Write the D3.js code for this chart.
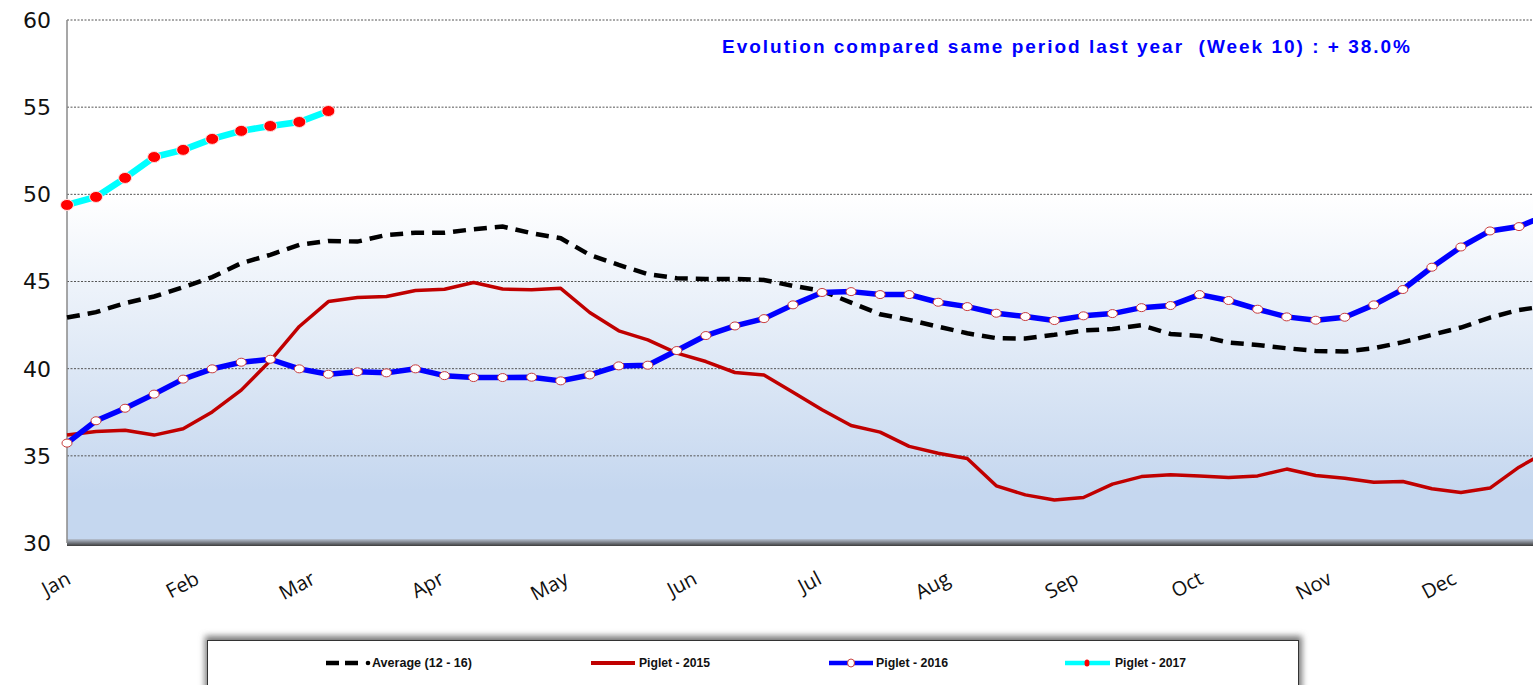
<!DOCTYPE html>
<html>
<head>
<meta charset="utf-8">
<script src="https://cdn.jsdelivr.net/npm/d3@7"></script>
<style>
  html, body { margin: 0; padding: 0; background: #fff; overflow: hidden; }
  svg { display: block; }
</style>
</head>
<body>
<div id="chart"></div>
<script>
const W = 1533, H = 685;

// weekly prices, week 1..52
const average = [42.93, 43.24, 43.76, 44.14, 44.67, 45.25, 46.05, 46.53, 47.10, 47.33, 47.29, 47.67, 47.80, 47.80, 48.00, 48.15,
  47.77, 47.48, 46.53, 45.95, 45.42, 45.19, 45.15, 45.15, 45.09, 44.75, 44.46, 43.79, 43.12, 42.80, 42.41, 42.03,
  41.75, 41.73, 41.94, 42.19, 42.28, 42.49, 41.99, 41.88, 41.50, 41.36, 41.17, 41.02, 40.98, 41.17, 41.52, 41.94,
  42.36, 42.93, 43.37, 43.60];
const piglet2015 = [36.19, 36.40, 36.47, 36.19, 36.55, 37.52, 38.77, 40.45, 42.42, 43.85, 44.08, 44.14, 44.48, 44.56, 44.94, 44.57,
  44.52, 44.61, 43.22, 42.17, 41.65, 40.89, 40.41, 39.78, 39.64, 38.65, 37.64, 36.74, 36.36, 35.54, 35.15, 34.85,
  33.28, 32.76, 32.47, 32.61, 33.38, 33.81, 33.91, 33.85, 33.76, 33.85, 34.24, 33.87, 33.72, 33.49, 33.53, 33.11,
  32.90, 33.15, 34.35, 35.30];
const piglet2016 = [35.73, 37.01, 37.73, 38.54, 39.40, 39.99, 40.37, 40.54, 39.99, 39.68, 39.82, 39.76, 39.99, 39.60, 39.49, 39.49,
  39.51, 39.30, 39.64, 40.16, 40.20, 41.04, 41.90, 42.45, 42.87, 43.66, 44.37, 44.42, 44.25, 44.25, 43.81, 43.56,
  43.18, 42.99, 42.76, 43.03, 43.16, 43.50, 43.62, 44.25, 43.91, 43.41, 42.97, 42.78, 42.95, 43.66, 44.54, 45.82,
  46.98, 47.90, 48.15, 48.85];
const piglet2017 = [49.39, 49.85, 50.94, 52.14, 52.55, 53.18, 53.64, 53.92, 54.15, 54.78];

const months = ["Jan", "Feb", "Mar", "Apr", "May", "Jun", "Jul", "Aug", "Sep", "Oct", "Nov", "Dec"];
const monthStartDay = [0, 31, 59, 90, 120, 151, 181, 212, 243, 273, 304, 334];
const yTicks = [30, 35, 40, 45, 50, 55, 60];
const titleText = "Evolution compared same period last year  (Week 10) : + 38.0%";

const margin = { left: 67, top: 20, bottom: 543 };

const svg = d3.select("#chart").append("svg").attr("width", W).attr("height", H);
const defs = svg.append("defs");

const x = d3.scaleLinear().domain([1, 52]).range([margin.left, margin.left + 51 * 29.04]);
const y = d3.scaleLinear().domain([30, 60]).range([margin.bottom, margin.top]);

// background gradient of the plot area
const grad = defs.append("linearGradient").attr("id", "bg")
  .attr("gradientUnits", "userSpaceOnUse")
  .attr("x1", 0).attr("x2", 0).attr("y1", y(50)).attr("y2", y(33));
grad.append("stop").attr("offset", 0).attr("stop-color", "#ffffff");
grad.append("stop").attr("offset", 1).attr("stop-color", "#c5d7ef");

const floor = defs.append("linearGradient").attr("id", "floor").attr("x1", 0).attr("x2", 0).attr("y1", 0).attr("y2", 1);
floor.append("stop").attr("offset", 0).attr("stop-color", "#b8c2d2");
floor.append("stop").attr("offset", 1).attr("stop-color", "#3c3c3c");

defs.append("clipPath").attr("id", "clip").append("rect")
  .attr("x", margin.left - 8).attr("y", 0).attr("width", W - margin.left + 8).attr("height", margin.bottom + 4);

svg.append("rect")
  .attr("x", margin.left).attr("y", y(60)).attr("width", W - margin.left).attr("height", y(30) - y(60))
  .attr("fill", "url(#bg)");

// gridlines
svg.append("g").selectAll("line").data(yTicks.filter(d => d > 30)).join("line")
  .attr("x1", margin.left).attr("x2", W)
  .attr("y1", d => y(d)).attr("y2", d => y(d))
  .attr("stroke", "#555").attr("stroke-width", 1).attr("stroke-dasharray", "2,1.5");

// floor and left axis
svg.append("rect").attr("x", margin.left).attr("y", y(30) - 4).attr("width", W - margin.left).attr("height", 7)
  .attr("fill", "url(#floor)");
svg.append("line").attr("x1", margin.left).attr("x2", margin.left).attr("y1", y(60)).attr("y2", y(30))
  .attr("stroke", "#8a8a8a").attr("stroke-width", 1.5);

// y labels
svg.append("g").selectAll("text").data(yTicks).join("text")
  .attr("x", 51).attr("y", d => y(d)).attr("dy", "0.36em")
  .attr("text-anchor", "end")
  .attr("font-family", "DejaVu Sans, Verdana, sans-serif").attr("font-size", 22)
  .attr("fill", "#111").text(d => d);

// month labels
svg.append("g").selectAll("text").data(months).join("text")
  .attr("text-anchor", "end")
  .attr("transform", (d, i) => `translate(${x(1 + monthStartDay[i] / 7) + 5},583) rotate(-28)`)
  .attr("font-family", "Open Sans, sans-serif").attr("font-size", 20)
  .attr("fill", "#111").text(d => d);

const plot = svg.append("g").attr("clip-path", "url(#clip)");
const line = d3.line().x((d, i) => x(i + 1)).y(d => y(d));

plot.append("path").datum(average).attr("d", line)
  .attr("fill", "none").attr("stroke", "#000").attr("stroke-width", 4.5)
  .attr("stroke-dasharray", "13,8");

plot.append("path").datum(piglet2015).attr("d", line)
  .attr("fill", "none").attr("stroke", "#c00000").attr("stroke-width", 3.5).attr("stroke-linejoin", "round");

plot.append("path").datum(piglet2016).attr("d", line)
  .attr("fill", "none").attr("stroke", "#0000ff").attr("stroke-width", 5.5).attr("stroke-linejoin", "round");
plot.append("g").selectAll("ellipse").data(piglet2016).join("ellipse")
  .attr("cx", (d, i) => x(i + 1)).attr("cy", d => y(d)).attr("rx", 5).attr("ry", 4)
  .attr("fill", "#fff").attr("stroke", "#c83c3c").attr("stroke-width", 1);

plot.append("path").datum(piglet2017).attr("d", line)
  .attr("fill", "none").attr("stroke", "#00ffff").attr("stroke-width", 6.5).attr("stroke-linejoin", "round");
plot.append("g").selectAll("ellipse").data(piglet2017).join("ellipse")
  .attr("cx", (d, i) => x(i + 1)).attr("cy", d => y(d)).attr("rx", 6.5).attr("ry", 5.5)
  .attr("fill", "#ff0000").attr("stroke", "#ffdede").attr("stroke-width", 1);

// title
svg.append("text").attr("x", 722).attr("y", 53)
  .attr("font-family", "Liberation Sans, Arial, sans-serif").attr("font-weight", "bold").attr("font-size", 19)
  .attr("fill", "#0000ff").attr("textLength", 688).attr("lengthAdjust", "spacing")
  .style("white-space", "pre").text(titleText);

// legend box with shadow
const shadow = defs.append("filter").attr("id", "shadow").attr("x", "-5%").attr("y", "-50%").attr("width", "110%").attr("height", "200%");
shadow.append("feGaussianBlur").attr("stdDeviation", 3);
svg.append("rect").attr("x", 205).attr("y", 636).attr("width", 1097).attr("height", 60)
  .attr("fill", "#777").attr("filter", "url(#shadow)");
svg.append("rect").attr("x", 207.5).attr("y", 640.5).attr("width", 1091).attr("height", 60)
  .attr("fill", "#fff").attr("stroke", "#333").attr("stroke-width", 1);

const legendItems = [
  { name: "Average (12 - 16)", x: 326, textX: 372, tl: 100 },
  { name: "Piglet - 2015", x: 591, textX: 639, tl: 71 },
  { name: "Piglet - 2016", x: 829, textX: 876, tl: 72 },
  { name: "Piglet - 2017", x: 1065, textX: 1115, tl: 71 }
];
const ly = 663;
const lg = svg.append("g");
// average symbol
lg.append("line").attr("x1", legendItems[0].x).attr("x2", legendItems[0].x + 34).attr("y1", ly).attr("y2", ly)
  .attr("stroke", "#000").attr("stroke-width", 4.5).attr("stroke-dasharray", "13,6");
lg.append("circle").attr("cx", legendItems[0].x + 42).attr("cy", ly).attr("r", 2.3).attr("fill", "#000");
// 2015
lg.append("line").attr("x1", legendItems[1].x).attr("x2", legendItems[1].x + 44).attr("y1", ly).attr("y2", ly)
  .attr("stroke", "#c00000").attr("stroke-width", 4);
// 2016
lg.append("line").attr("x1", legendItems[2].x).attr("x2", legendItems[2].x + 44).attr("y1", ly).attr("y2", ly)
  .attr("stroke", "#0000ff").attr("stroke-width", 4.5);
lg.append("ellipse").attr("cx", legendItems[2].x + 22).attr("cy", ly).attr("rx", 3.5).attr("ry", 4)
  .attr("fill", "#fff").attr("stroke", "#c83c3c").attr("stroke-width", 1);
// 2017
lg.append("line").attr("x1", legendItems[3].x).attr("x2", legendItems[3].x + 45).attr("y1", ly).attr("y2", ly)
  .attr("stroke", "#00ffff").attr("stroke-width", 4.5);
lg.append("ellipse").attr("cx", legendItems[3].x + 22).attr("cy", ly).attr("rx", 2.5).attr("ry", 3.5)
  .attr("fill", "#ff0000");

lg.selectAll("text").data(legendItems).join("text")
  .attr("x", d => d.textX).attr("y", ly + 4)
  .attr("font-family", "Liberation Sans Narrow, Arial Narrow, Liberation Sans, sans-serif")
  .attr("font-weight", "bold").attr("font-size", 12)
  .attr("textLength", d => d.tl).attr("lengthAdjust", "spacingAndGlyphs")
  .attr("fill", "#111").text(d => d.name);
</script>
</body>
</html>
